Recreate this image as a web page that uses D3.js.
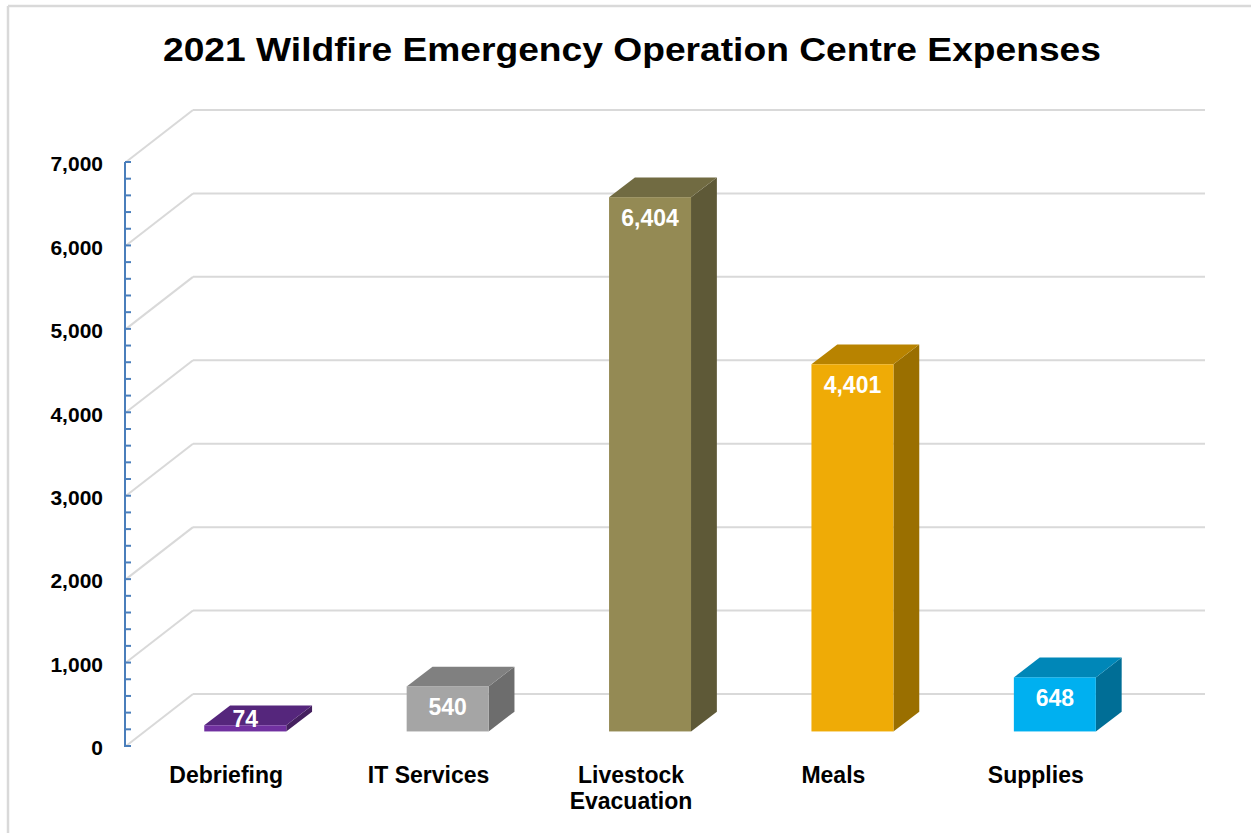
<!DOCTYPE html>
<html>
<head>
<meta charset="utf-8">
<script src="https://cdn.jsdelivr.net/npm/d3@7"></script>
<style>
  html, body { margin: 0; padding: 0; background: #fff; }
  svg { display: block; font-family: "Liberation Sans", Arial, Helvetica, sans-serif; }
</style>
</head>
<body>
<svg id="chart" width="1251" height="833"></svg>
<script>
// Expense categories and totals
const categories = ["Debriefing", "IT Services", "Livestock Evacuation", "Meals", "Supplies"];
const expenses = [74, 540, 6404, 4401, 648];
const yTicks = [0, 1000, 2000, 3000, 4000, 5000, 6000, 7000];
const frontColors = ["#7030a0", "#a5a5a5", "#948a54", "#efab06", "#00b0f0"];
const topColors = ["#55267c", "#808080", "#716b42", "#b88300", "#0087b8"];
const sideColors = ["#44205f", "#6d6d6d", "#5e5937", "#9a6f00", "#006e96"];

const svg = d3.select("#chart");
const W = 1251, H = 833;

// Outer frame
svg.append("line").attr("x1", 8).attr("y1", 6).attr("x2", W).attr("y2", 6)
  .attr("stroke", "#d9d9d9").attr("stroke-width", 2.5);
svg.append("line").attr("x1", 8).attr("y1", 6).attr("x2", 8).attr("y2", H)
  .attr("stroke", "#d9d9d9").attr("stroke-width", 2.5);

// Title
svg.append("text")
  .attr("x", 632).attr("y", 61)
  .attr("text-anchor", "middle")
  .attr("font-size", 33).attr("font-weight", "bold").attr("fill", "#000")
  .attr("textLength", 938).attr("lengthAdjust", "spacingAndGlyphs")
  .text("2021 Wildfire Emergency Operation Centre Expenses");

// Front plane scales; the back wall is shifted by the depth vector
const x0 = 125, x1 = 1137;
const depth = { dx: 68, dy: -52 };
const y = d3.scaleLinear().domain([0, 7000]).range([746, 162]);
const x = d3.scaleBand().domain(categories).range([x0, x1]).paddingInner(0).paddingOuter(0);

// Oblique projection of a point at a fraction of the depth
const proj = (px, py, f) => [px + depth.dx * f, py + depth.dy * f];

// Back wall gridlines and side wall diagonals
const grid = svg.append("g").attr("stroke", "#d9d9d9").attr("stroke-width", 2).attr("fill", "none");
yTicks.forEach(v => {
  const [bx, by] = proj(x0, y(v), 1);
  grid.append("line").attr("x1", bx).attr("y1", by).attr("x2", x1 + depth.dx).attr("y2", by);
  grid.append("line").attr("x1", x0 + 1).attr("y1", y(v)).attr("x2", bx).attr("y2", by);
});

// Vertical value axis with minor ticks every 200
const axisG = svg.append("g");
axisG.append("line").attr("x1", x0).attr("y1", y(7000)).attr("x2", x0).attr("y2", y(0) + 1)
  .attr("stroke", "#4a7ebb").attr("stroke-width", 2);
d3.range(0, 7001, 200).forEach(v => {
  axisG.append("line").attr("x1", x0).attr("x2", x0 + 6).attr("y1", y(v)).attr("y2", y(v))
    .attr("stroke", "#4a7ebb").attr("stroke-width", 2);
});
const fmt = d3.format(",");
axisG.selectAll("text.tick").data(yTicks).join("text")
  .attr("class", "tick")
  .attr("x", 103).attr("y", d => y(d) + 2)
  .attr("dy", "0.35em")
  .attr("text-anchor", "end")
  .attr("font-size", 21).attr("font-weight", "bold").attr("fill", "#000")
  .text(d => fmt(d));

// 3D bars
const fFront = 0.28, fBack = 0.66;
const barW = x.bandwidth() * 0.405;
const bars = svg.append("g");
categories.forEach((c, i) => {
  const v = expenses[i];
  const cx = x(c) + x.bandwidth() / 2;
  const lx = cx - barW / 2, rx = cx + barW / 2;
  const [flx, fty] = proj(lx, y(v), fFront);
  const [frx, fby] = proj(rx, y(0), fFront);
  const [blx, bty] = proj(lx, y(v), fBack);
  const [brx, bby] = proj(rx, y(0), fBack);
  const g = bars.append("g");
  // right side
  g.append("polygon")
    .attr("points", [[frx, fty], [brx, bty], [brx, bby], [frx, fby]].join(" "))
    .attr("fill", sideColors[i]);
  // top
  g.append("polygon")
    .attr("points", [[flx, fty], [blx, bty], [brx, bty], [frx, fty]].join(" "))
    .attr("fill", topColors[i]);
  // front
  g.append("rect")
    .attr("x", flx).attr("y", fty).attr("width", frx - flx).attr("height", fby - fty)
    .attr("fill", frontColors[i]);
  // value label
  g.append("text")
    .attr("x", (flx + frx) / 2)
    .attr("y", Math.min(fty + 29, fby - 4))
    .attr("text-anchor", "middle")
    .attr("font-size", 23).attr("font-weight", "bold").attr("fill", "#fff")
    .text(fmt(v));
});

// Category labels
const catLines = { "Livestock Evacuation": ["Livestock", "Evacuation"] };
categories.forEach(c => {
  const lines = catLines[c] || [c];
  const t = svg.append("text")
    .attr("x", x(c) + x.bandwidth() / 2).attr("y", 783)
    .attr("text-anchor", "middle")
    .attr("font-size", 23).attr("font-weight", "bold").attr("fill", "#000");
  lines.forEach((ln, k) => {
    t.append("tspan").attr("x", x(c) + x.bandwidth() / 2).attr("dy", k === 0 ? 0 : 26).text(ln);
  });
});
</script>
</body>
</html>
